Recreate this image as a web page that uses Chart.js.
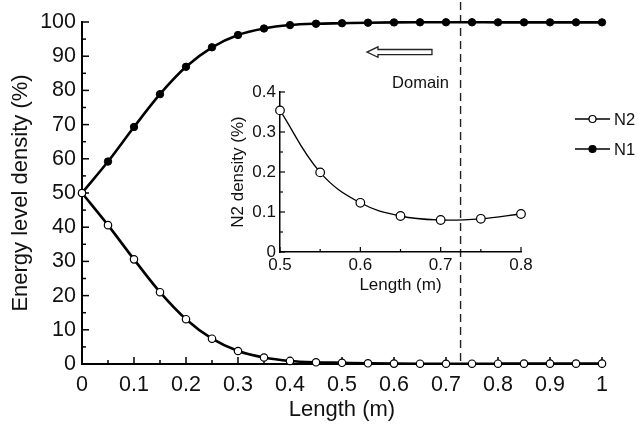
<!DOCTYPE html>
<html>
<head>
<meta charset="utf-8">
<script src="https://cdn.jsdelivr.net/npm/chart.js@4.4.1/dist/chart.umd.min.js"></script>
<style>
  html, body { margin: 0; padding: 0; background: #fff; }
  #wrap { position: relative; width: 638px; height: 424px; overflow: hidden; }
  #mainChart { position: absolute; left: 0; top: 0; }
  #insetChart { position: absolute; left: 220px; top: 70px; }
</style>
</head>
<body>
<div id="wrap">
  <canvas id="mainChart" width="638" height="424"></canvas>
  <canvas id="insetChart" width="320" height="240"></canvas>
</div>
<script>
// main plot data (density in %)
var lengths = [0, 0.05, 0.1, 0.15, 0.2, 0.25, 0.3, 0.35, 0.4, 0.45, 0.5,
  0.55, 0.6, 0.65, 0.7, 0.75, 0.8, 0.85, 0.9, 0.95, 1];
var n1 = [50, 59.2, 69.3, 78.9, 86.9, 92.6, 96.2, 98.1, 99.1, 99.5, 99.65,
  99.8, 99.88, 99.91, 99.92, 99.92, 99.9, 99.9, 99.9, 99.9, 99.9];
var n2 = [50, 40.6, 30.6, 21.0, 13.1, 7.4, 3.8, 1.9, 0.9, 0.5, 0.35,
  0.2, 0.12, 0.09, 0.08, 0.083, 0.095, 0.1, 0.1, 0.1, 0.1];

// inset data
var insetLengths = [0.5, 0.55, 0.6, 0.65, 0.7, 0.75, 0.8];
var insetN2 = [0.354, 0.199, 0.123, 0.09, 0.08, 0.083, 0.095];

var domainEdge = 0.728;

var FONT = "'Liberation Sans', Arial, Helvetica, sans-serif";
Chart.defaults.font.family = FONT;
Chart.defaults.color = "#111";

function pts(xs, ys) {
  return xs.map(function (x, i) { return { x: x, y: ys[i] }; });
}

function fmt(v) {
  return String(Math.round(v * 100) / 100);
}

// inward major/minor ticks on the left and bottom axes
var inTicks = {
  id: "inTicks",
  beforeDatasetsDraw: function (chart, args, o) {
    var ctx = chart.ctx, a = chart.chartArea;
    ctx.save();
    ctx.strokeStyle = "#000";
    ctx.lineWidth = o.lineWidth;
    ["x", "y"].forEach(function (id) {
      var s = chart.scales[id];
      var step = o[id];
      var n = Math.round((s.max - s.min) / step);
      for (var i = 0; i <= n; i++) {
        var p = s.getPixelForValue(s.min + i * step);
        var len = i % 2 === 0 ? o.major : o.minor;
        ctx.beginPath();
        if (id === "x") {
          ctx.moveTo(p, a.bottom);
          ctx.lineTo(p, a.bottom - len);
        } else {
          ctx.moveTo(a.left, p);
          ctx.lineTo(a.left + len, p);
        }
        ctx.stroke();
      }
    });
    ctx.restore();
  }
};

// dashed domain line, arrow, label and legend on the main chart
var extras = {
  id: "extras",
  beforeDatasetsDraw: function (chart) {
    var ctx = chart.ctx, a = chart.chartArea;
    var xs = chart.scales.x;
    var dx = xs.getPixelForValue(domainEdge);
    ctx.save();
    ctx.strokeStyle = "#222";
    ctx.lineWidth = 1.4;
    ctx.setLineDash([8, 5]);
    ctx.beginPath();
    ctx.moveTo(dx, 2);
    ctx.lineTo(dx, a.bottom);
    ctx.stroke();
    ctx.restore();
  },
  afterDraw: function (chart) {
    var ctx = chart.ctx;
    var xs = chart.scales.x, ys = chart.scales.y;
    // hollow arrow pointing left
    var tx = xs.getPixelForValue(0.548), ty = ys.getPixelForValue(91.2);
    ctx.save();
    ctx.strokeStyle = "#222";
    ctx.fillStyle = "#fff";
    ctx.lineWidth = 1.3;
    ctx.beginPath();
    ctx.moveTo(tx, ty);
    ctx.lineTo(tx + 11, ty - 5.2);
    ctx.lineTo(tx + 11, ty - 2.6);
    ctx.lineTo(tx + 65, ty - 2.6);
    ctx.lineTo(tx + 65, ty + 2.6);
    ctx.lineTo(tx + 11, ty + 2.6);
    ctx.lineTo(tx + 11, ty + 5.2);
    ctx.closePath();
    ctx.fill();
    ctx.stroke();

    ctx.fillStyle = "#111";
    ctx.font = "16.5px " + FONT;
    ctx.textAlign = "center";
    ctx.textBaseline = "middle";
    ctx.fillText("Domain", xs.getPixelForValue(0.651), ys.getPixelForValue(82));

    // legend
    var items = [
      { label: "N2", y: 119, fill: "#fff" },
      { label: "N1", y: 149, fill: "#000" }
    ];
    items.forEach(function (it) {
      ctx.strokeStyle = "#000";
      ctx.lineWidth = 1.5;
      ctx.beginPath();
      ctx.moveTo(575, it.y);
      ctx.lineTo(610, it.y);
      ctx.stroke();
      ctx.beginPath();
      ctx.arc(592.5, it.y, 3.5, 0, Math.PI * 2);
      ctx.fillStyle = it.fill;
      ctx.fill();
      ctx.lineWidth = 1.2;
      ctx.stroke();
      ctx.fillStyle = "#111";
      ctx.font = "16.5px " + FONT;
      ctx.textAlign = "left";
      ctx.fillText(it.label, 614, it.y + 1);
    });
    ctx.restore();
  }
};

var mainChart = new Chart(document.getElementById("mainChart").getContext("2d"), {
  type: "line",
  data: {
    datasets: [
      {
        label: "N2",
        data: pts(lengths, n2),
        borderColor: "#000",
        borderWidth: 2.6,
        pointRadius: 3.7,
        pointBackgroundColor: "#fff",
        pointBorderColor: "#000",
        pointBorderWidth: 1.2,
        cubicInterpolationMode: "monotone",
        clip: false
      },
      {
        label: "N1",
        data: pts(lengths, n1),
        borderColor: "#000",
        borderWidth: 2.6,
        pointRadius: 3.7,
        pointBackgroundColor: "#000",
        pointBorderColor: "#000",
        pointBorderWidth: 1,
        cubicInterpolationMode: "monotone",
        clip: false
      }
    ]
  },
  options: {
    responsive: false,
    animation: false,
    layout: { padding: { left: 0, right: 36, top: 22, bottom: 0 } },
    plugins: {
      legend: { display: false },
      tooltip: { enabled: false },
      inTicks: { x: 0.05, y: 5, major: 7, minor: 4, lineWidth: 1.5 }
    },
    scales: {
      x: {
        type: "linear",
        min: 0,
        max: 1,
        grid: { display: false, drawTicks: false },
        border: { display: true, color: "#000", width: 2 },
        ticks: {
          stepSize: 0.1,
          padding: 8,
          color: "#111",
          font: { size: 21.5 },
          maxRotation: 0,
          callback: function (v) { return fmt(v); }
        },
        title: {
          display: true,
          text: "Length (m)",
          color: "#111",
          font: { size: 22 },
          padding: { top: 0, bottom: 1 }
        },
        afterFit: function (s) { s.height = 60; }
      },
      y: {
        min: 0,
        max: 100,
        grid: { display: false, drawTicks: false },
        border: { display: true, color: "#000", width: 2 },
        ticks: {
          stepSize: 10,
          padding: 6,
          color: "#111",
          font: { size: 21.5 },
          callback: function (v) { return fmt(v); }
        },
        title: {
          display: true,
          text: "Energy level density (%)",
          color: "#111",
          font: { size: 22 },
          padding: { top: 8, bottom: 0 }
        },
        afterFit: function (s) { s.width = 82; }
      }
    }
  },
  plugins: [inTicks, extras]
});

var insetChart = new Chart(document.getElementById("insetChart").getContext("2d"), {
  type: "line",
  data: {
    datasets: [
      {
        label: "N2",
        data: pts(insetLengths, insetN2),
        borderColor: "#000",
        borderWidth: 1.3,
        pointRadius: 4.3,
        pointBackgroundColor: "#fff",
        pointBorderColor: "#000",
        pointBorderWidth: 1.2,
        tension: 0.4,
        clip: false
      }
    ]
  },
  options: {
    responsive: false,
    animation: false,
    layout: { padding: { left: 0, right: 19, top: 22, bottom: 0 } },
    plugins: {
      legend: { display: false },
      tooltip: { enabled: false },
      inTicks: { x: 0.05, y: 0.05, major: 5, minor: 3, lineWidth: 1.2 }
    },
    scales: {
      x: {
        type: "linear",
        min: 0.5,
        max: 0.8,
        grid: { display: false, drawTicks: false },
        border: { display: true, color: "#000", width: 1.5 },
        ticks: {
          stepSize: 0.1,
          padding: 3,
          color: "#111",
          font: { size: 17 },
          maxRotation: 0,
          callback: function (v) { return fmt(v); }
        },
        title: {
          display: true,
          text: "Length (m)",
          color: "#111",
          font: { size: 17 },
          padding: { top: 0, bottom: 14 }
        },
        afterFit: function (s) { s.height = 58; }
      },
      y: {
        min: 0,
        max: 0.4,
        grid: { display: false, drawTicks: false },
        border: { display: true, color: "#000", width: 1.5 },
        ticks: {
          stepSize: 0.1,
          padding: 4,
          color: "#111",
          font: { size: 17 },
          callback: function (v) { return fmt(v); }
        },
        title: {
          display: true,
          text: "N2 density (%)",
          color: "#111",
          font: { size: 17 },
          padding: { top: 8, bottom: 0 }
        },
        afterFit: function (s) { s.width = 60; }
      }
    }
  },
  plugins: [inTicks]
});
</script>
</body>
</html>
